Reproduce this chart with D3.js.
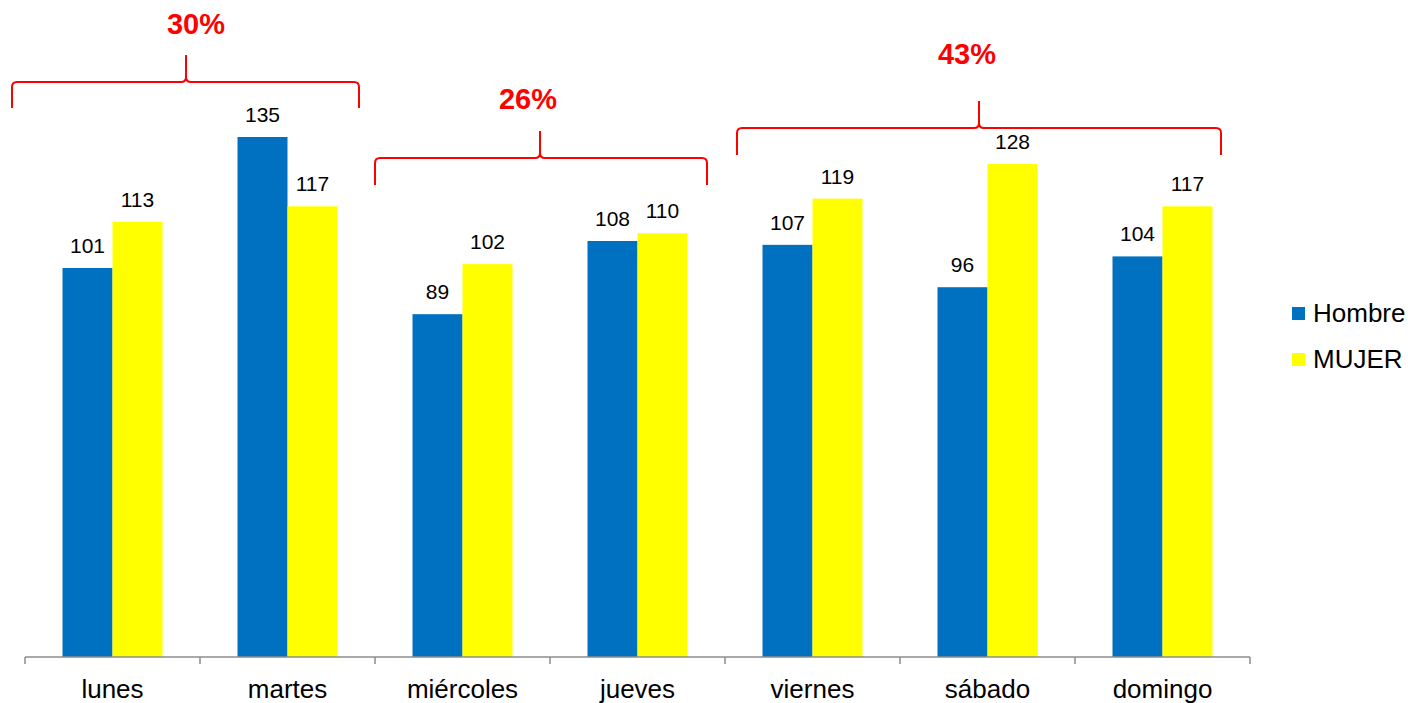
<!DOCTYPE html>
<html>
<head>
<meta charset="UTF-8">
<style>
    body { margin: 0; background: #fff; }
    text { font-family: "Liberation Sans", Arial, sans-serif; }
    .lbl { font-size: 21px; fill: #000; }
    .cat { font-size: 26px; fill: #000; }
    .pct { font-size: 29px; font-weight: bold; fill: #ff0000; }
    .brace { fill: none; stroke: #ff0000; stroke-width: 2; }
</style>
</head>
<body>
<script src="https://cdn.jsdelivr.net/npm/d3@7"></script>
<script>
var days = ["lunes", "martes", "miércoles", "jueves", "viernes", "sábado", "domingo"];
var hombre = [101, 135, 89, 108, 107, 96, 104];
var mujer = [113, 117, 102, 110, 119, 128, 117];
var seriesNames = ["Hombre", "MUJER"];
var seriesColors = ["#0070c0", "#ffff00"];
var groupFrom = ["lunes", "miércoles", "viernes"];
var groupTo = ["martes", "jueves", "domingo"];
var groupPct = ["30%", "26%", "43%"];

var width = 1408, height = 703;
var svg = d3.select("body").append("svg").attr("width", width).attr("height", height);

var x = d3.scaleBand().domain(days).range([25, 1250]);
var xs = d3.scaleBand().domain(seriesNames).range([0, 100]);
var y = d3.scaleLinear().domain([0, 135]).range([657, 137]);
var pad = (x.bandwidth() - 100) / 2;

var rows = days.map(function(d, i) { return {day: d, values: [hombre[i], mujer[i]]}; });

var groups = svg.selectAll(".day").data(rows).enter().append("g")
    .attr("transform", function(d) { return "translate(" + (x(d.day) + pad) + ",0)"; });

groups.selectAll("rect").data(function(d) { return d.values; }).enter().append("rect")
    .attr("x", function(v, i) { return xs(seriesNames[i]); })
    .attr("width", xs.bandwidth())
    .attr("y", function(v) { return y(v); })
    .attr("height", function(v) { return y(0) - y(v); })
    .attr("fill", function(v, i) { return seriesColors[i]; });

groups.selectAll("text").data(function(d) { return d.values; }).enter().append("text")
    .attr("class", "lbl")
    .attr("text-anchor", "middle")
    .attr("x", function(v, i) { return xs(seriesNames[i]) + xs.bandwidth() / 2; })
    .attr("y", function(v) { return y(v) - 15; })
    .text(function(v) { return v; });

// axis
var axis = svg.append("g").attr("stroke", "#8c8c8c").attr("stroke-width", 1.5);
axis.append("line").attr("x1", x.range()[0]).attr("x2", x.range()[1])
    .attr("y1", y(0)).attr("y2", y(0));
var ticks = days.map(function(d) { return x(d); }).concat([x.range()[1]]);
axis.selectAll(".tk").data(ticks).enter().append("line")
    .attr("x1", function(d) { return d; }).attr("x2", function(d) { return d; })
    .attr("y1", y(0)).attr("y2", y(0) + 7);

svg.selectAll(".cat").data(days).enter().append("text")
    .attr("class", "cat")
    .attr("text-anchor", "middle")
    .attr("x", function(d) { return x(d) + x.bandwidth() / 2; })
    .attr("y", 698)
    .text(function(d) { return d; });

// braces
var braceGeo = [
    {dx0: -13, dx1: -16, yh: 82, yb: 108, yt: 55, tx: 196, ty: 34, mx: 186},
    {dx0: 0, dx1: -18, yh: 158, yb: 185, yt: 131, tx: 528, ty: 109, mx: 540},
    {dx0: 12, dx1: -29, yh: 128, yb: 155, yt: 101, tx: 967, ty: 64, mx: 979}
];
function bracePath(x0, x1, xm, yh, yb, yt) {
    var r = 5;
    var p = d3.path();
    p.moveTo(x0, yb);
    p.lineTo(x0, yh + r);
    p.quadraticCurveTo(x0, yh, x0 + r, yh);
    p.lineTo(xm - r, yh);
    p.quadraticCurveTo(xm, yh, xm, yh - r);
    p.lineTo(xm, yt);
    p.moveTo(xm, yh - r);
    p.quadraticCurveTo(xm, yh, xm + r, yh);
    p.lineTo(x1 - r, yh);
    p.quadraticCurveTo(x1, yh, x1, yh + r);
    p.lineTo(x1, yb);
    return p.toString();
}
groupPct.forEach(function(t, i) {
    var g = braceGeo[i];
    var x0 = x(groupFrom[i]) + g.dx0;
    var x1 = x(groupTo[i]) + x.bandwidth() + g.dx1;
    svg.append("path").attr("class", "brace")
        .attr("d", bracePath(x0, x1, g.mx, g.yh, g.yb, g.yt));
    svg.append("text").attr("class", "pct").attr("text-anchor", "middle")
        .attr("x", g.tx).attr("y", g.ty).text(t);
});

// legend
var legend = svg.selectAll(".leg").data(seriesNames).enter().append("g")
    .attr("transform", function(d, i) { return "translate(1292," + (307 + i * 46) + ")"; });
legend.append("rect").attr("width", 13).attr("height", 13)
    .attr("fill", function(d, i) { return seriesColors[i]; });
legend.append("text").attr("class", "cat").attr("x", 21).attr("y", 15)
    .text(function(d) { return d; });
</script>
</body>
</html>
